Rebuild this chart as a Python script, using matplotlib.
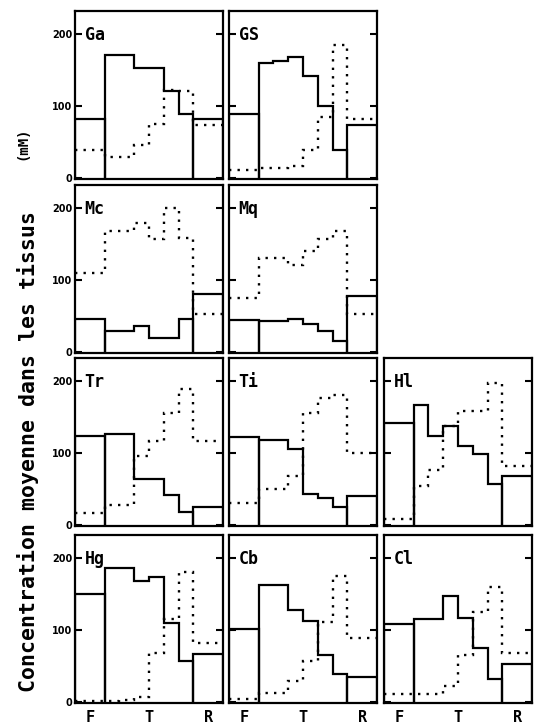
import matplotlib
matplotlib.use("Agg")
import matplotlib.pyplot as plt
import numpy as np

# ---- data (mM): values for F, T1..T6, R ----
categories = ["F", "T", "R"]
yticks = [0, 100, 200]

Ga_solid = [81, 171, 171, 152, 152, 121, 88, 81]
Ga_dot = [39, 29, 29, 46, 75, 122, 121, 73]
GS_solid = [88, 160, 162, 168, 142, 100, 38, 73]
GS_dot = [10, 14, 14, 16, 38, 85, 185, 82]
Mc_solid = [46, 29, 29, 36, 19, 19, 45, 80]
Mc_dot = [109, 168, 168, 179, 157, 200, 158, 52]
Mq_solid = [44, 43, 43, 45, 38, 28, 15, 77]
Mq_dot = [74, 130, 130, 120, 140, 157, 168, 52]
Tr_solid = [123, 126, 126, 64, 64, 41, 18, 25]
Tr_dot = [16, 27, 27, 96, 116, 155, 189, 117]
Ti_solid = [122, 118, 118, 105, 42, 37, 24, 40]
Ti_dot = [30, 49, 49, 67, 156, 176, 181, 99]
Hl_solid = [141, 167, 124, 137, 110, 98, 57, 68]
Hl_dot = [8, 54, 76, 137, 158, 158, 197, 81]
Hg_solid = [150, 186, 186, 168, 174, 110, 57, 66]
Hg_dot = [1, 1, 2, 7, 67, 115, 180, 81]
Cb_solid = [101, 163, 163, 127, 112, 65, 38, 34]
Cb_dot = [4, 12, 12, 29, 56, 111, 175, 88]
Cl_solid = [108, 115, 115, 147, 117, 74, 31, 52]
Cl_dot = [10, 10, 10, 22, 65, 125, 160, 67]

panels = [
    ("Ga", Ga_solid, Ga_dot), ("GS", GS_solid, GS_dot),
    ("Mc", Mc_solid, Mc_dot), ("Mq", Mq_solid, Mq_dot),
    ("Tr", Tr_solid, Tr_dot), ("Ti", Ti_solid, Ti_dot), ("Hl", Hl_solid, Hl_dot),
    ("Hg", Hg_solid, Hg_dot), ("Cb", Cb_solid, Cb_dot), ("Cl", Cl_solid, Cl_dot),
]
grid = [(0, 0), (0, 1), (1, 0), (1, 1), (2, 0), (2, 1), (2, 2), (3, 0), (3, 1), (3, 2)]

# ---- layout ----
W, H = 539, 726
fig = plt.figure(figsize=(W / 100, H / 100), dpi=100)
col_left = [75, 229, 384]
ax_w = 148
row_top = [11, 185, 358, 535]
ax_h = 168

edges_F = [0, 2]
edges_T = [2, 3, 4, 5, 6, 7, 8]
edges_R = [8, 10]
edges_all = [0, 2, 3, 4, 5, 6, 7, 8, 10]

mono = "DejaVu Sans Mono"

for (name, solid, dot), (r, c) in zip(panels, grid):
    left = col_left[c] / W
    bottom = 1 - (row_top[r] + ax_h) / H
    ax = fig.add_axes([left, bottom, ax_w / W, ax_h / H])
    kw = dict(color="black", lw=1.6, baseline=0, fill=False)
    ax.stairs([solid[0]], edges_F, **kw)
    ax.stairs(solid[1:7], edges_T, **kw)
    ax.stairs([solid[7]], edges_R, **kw)
    ax.stairs(dot, edges_all, baseline=None, color="black", lw=1.7,
              linestyle=(0, (1.0, 2.6)))
    ax.set_xlim(0, 10)
    ax.set_ylim(-2, 232)
    for s in ax.spines.values():
        s.set_linewidth(1.6)
    ax.set_yticks(yticks)
    ax.tick_params(axis="y", direction="in", length=5, width=1.5,
                   left=True, right=True, labelleft=(c == 0), pad=2)
    for lab in ax.get_yticklabels():
        lab.set_fontsize(7)
        lab.set_fontweight("bold")
    if r == 3:
        ax.set_xticks([1, 5, 9])
        ax.set_xticklabels(categories, fontsize=11, fontweight="bold",
                           family=mono)
        ax.tick_params(axis="x", length=0, pad=5)
    else:
        ax.set_xticks([])
    ax.text(0.65, 198, name, fontsize=12, family=mono, fontweight="bold",
            va="center", ha="left")

fig.text(28 / W, 1 - 451 / H, "Concentration moyenne dans les tissus",
         rotation=90, ha="center", va="center", fontsize=15.5,
         family=mono, fontweight="bold")
fig.text(22 / W, 1 - 143 / H, "(mM)", rotation=90, ha="center", va="center",
         fontsize=10, family=mono, fontweight="bold")

fig.savefig("out.png", dpi=100)
